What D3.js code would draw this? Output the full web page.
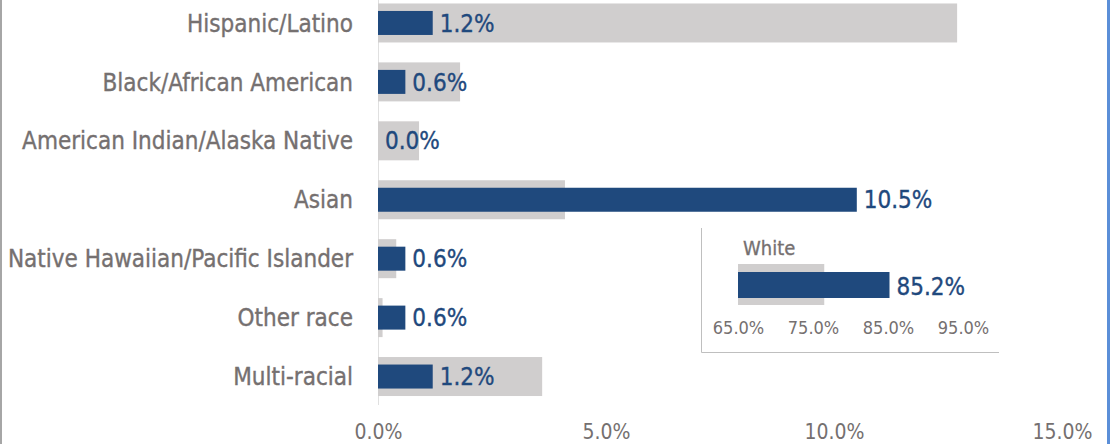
<!DOCTYPE html>
<html>
<head>
<meta charset="utf-8">
<script src="https://cdn.jsdelivr.net/npm/d3@7"></script>
<style>
  body { margin: 0; background: #fff; }
  svg { display: block; }
  text { font-family: "Liberation Sans Narrow", "DejaVu Sans Condensed", "Roboto", sans-serif; }
</style>
</head>
<body>
<div class="container"></div>
<script>
const w = 1112;
const h = 444;

// data
const categories = ["Hispanic/Latino", "Black/African American", "American Indian/Alaska Native",
                    "Asian", "Native Hawaiian/Pacific Islander", "Other race", "Multi-racial"];
const schoolValues = [1.2, 0.6, 0.0, 10.5, 0.6, 0.6, 1.2];
const compareValues = [12.7, 1.8, 0.9, 4.1, 0.4, 0.1, 3.6];
const xTicks = [0, 5, 10, 15];

const whiteLabel = "White";
const whiteValue = 85.2;
const whiteCompare = 76.5;
const insetTicks = [65, 75, 85, 95];

const blue = "#1f497d";
const gray = "#d0cece";
const textGray = "#757070";

const svg = d3.select(".container")
          .append("svg")
          .attr("width", w)
          .attr("height", h);

// frame lines
svg.append("rect").attr("x", 0).attr("y", 0).attr("width", 2).attr("height", h).attr("fill", "#a6a6a6");
svg.append("rect").attr("x", 1107).attr("y", 0).attr("width", 3).attr("height", h).attr("fill", "#5b8fd8");

const xScale = d3.scaleLinear()
                 .domain([0, 15])
                 .range([378, 1062]);

const yScale = d3.scaleBand()
                 .domain(categories)
                 .range([-6.5, 406]);

const band = yScale.bandwidth();

// zero line
svg.append("line")
   .attr("x1", xScale(0) + 0.5).attr("x2", xScale(0) + 0.5)
   .attr("y1", 0).attr("y2", 405)
   .attr("stroke", "#e0e0e0").attr("stroke-width", 1);

svg.selectAll(".cmp")
   .data(categories)
   .enter()
   .append("rect")
   .attr("class", "cmp")
   .attr("x", xScale(0))
   .attr("y", d => yScale(d) + band / 2 - 19.5)
   .attr("width", (d, i) => xScale(compareValues[i]) - xScale(0))
   .attr("height", 39)
   .attr("fill", gray);

svg.selectAll(".bar")
   .data(categories)
   .enter()
   .append("rect")
   .attr("class", "bar")
   .attr("x", xScale(0))
   .attr("y", d => yScale(d) + band / 2 - 12)
   .attr("width", (d, i) => xScale(schoolValues[i]) - xScale(0))
   .attr("height", 24)
   .attr("fill", blue);

svg.selectAll(".val")
   .data(categories)
   .enter()
   .append("text")
   .attr("class", "val")
   .attr("x", (d, i) => xScale(schoolValues[i]) + 7)
   .attr("y", d => yScale(d) + band / 2)
   .attr("dy", "0.36em")
   .attr("fill", blue)
   .attr("stroke", blue)
   .attr("stroke-width", 0.35)
   .attr("font-size", 24)
   .text((d, i) => schoolValues[i].toFixed(1) + "%");

svg.selectAll(".cat")
   .data(categories)
   .enter()
   .append("text")
   .attr("class", "cat")
   .attr("x", 353)
   .attr("y", d => yScale(d) + band / 2)
   .attr("dy", "0.36em")
   .attr("text-anchor", "end")
   .attr("fill", textGray)
   .attr("stroke", textGray)
   .attr("stroke-width", 0.35)
   .attr("font-size", 24)
   .text(d => d);

const xAxis = d3.axisBottom(xScale)
                .tickValues(xTicks)
                .tickSize(0)
                .tickPadding(0)
                .tickFormat(d => d.toFixed(1) + "%");
const gx = svg.append("g")
   .attr("transform", "translate(0,424)")
   .call(xAxis);
gx.select(".domain").remove();
gx.selectAll("text")
  .attr("fill", textGray)
  .attr("font-size", 21)
  .attr("font-family", null);

// inset: White
const inset = svg.append("g");
inset.append("path")
     .attr("d", "M701.5,228 V352.5 H999")
     .attr("fill", "none")
     .attr("stroke", "#bfbfbf")
     .attr("stroke-width", 1);

const ix = d3.scaleLinear()
             .domain([65, 100])
             .range([738, 1000.5]);

inset.append("rect")
     .attr("x", ix(65)).attr("y", 264)
     .attr("width", ix(whiteCompare) - ix(65)).attr("height", 41)
     .attr("fill", gray);
inset.append("rect")
     .attr("x", ix(65)).attr("y", 272)
     .attr("width", ix(whiteValue) - ix(65)).attr("height", 26)
     .attr("fill", blue);
inset.append("text")
     .attr("x", ix(whiteValue) + 7).attr("y", 286)
     .attr("dy", "0.36em")
     .attr("fill", blue)
     .attr("stroke", blue)
     .attr("stroke-width", 0.35)
     .attr("font-size", 24)
     .text(whiteValue.toFixed(1) + "%");
inset.append("text")
     .attr("x", 743).attr("y", 255)
     .attr("fill", textGray)
     .attr("stroke", textGray)
     .attr("stroke-width", 0.3)
     .attr("font-size", 20)
     .text(whiteLabel);

const ixAxis = d3.axisBottom(ix)
                 .tickValues(insetTicks)
                 .tickSize(0)
                 .tickPadding(0)
                 .tickFormat(d => d.toFixed(1) + "%");
const gix = inset.append("g")
   .attr("transform", "translate(0,321)")
   .call(ixAxis);
gix.select(".domain").remove();
gix.selectAll("text")
   .attr("fill", textGray)
   .attr("font-size", 18)
   .attr("font-family", null);
</script>
</body>
</html>
